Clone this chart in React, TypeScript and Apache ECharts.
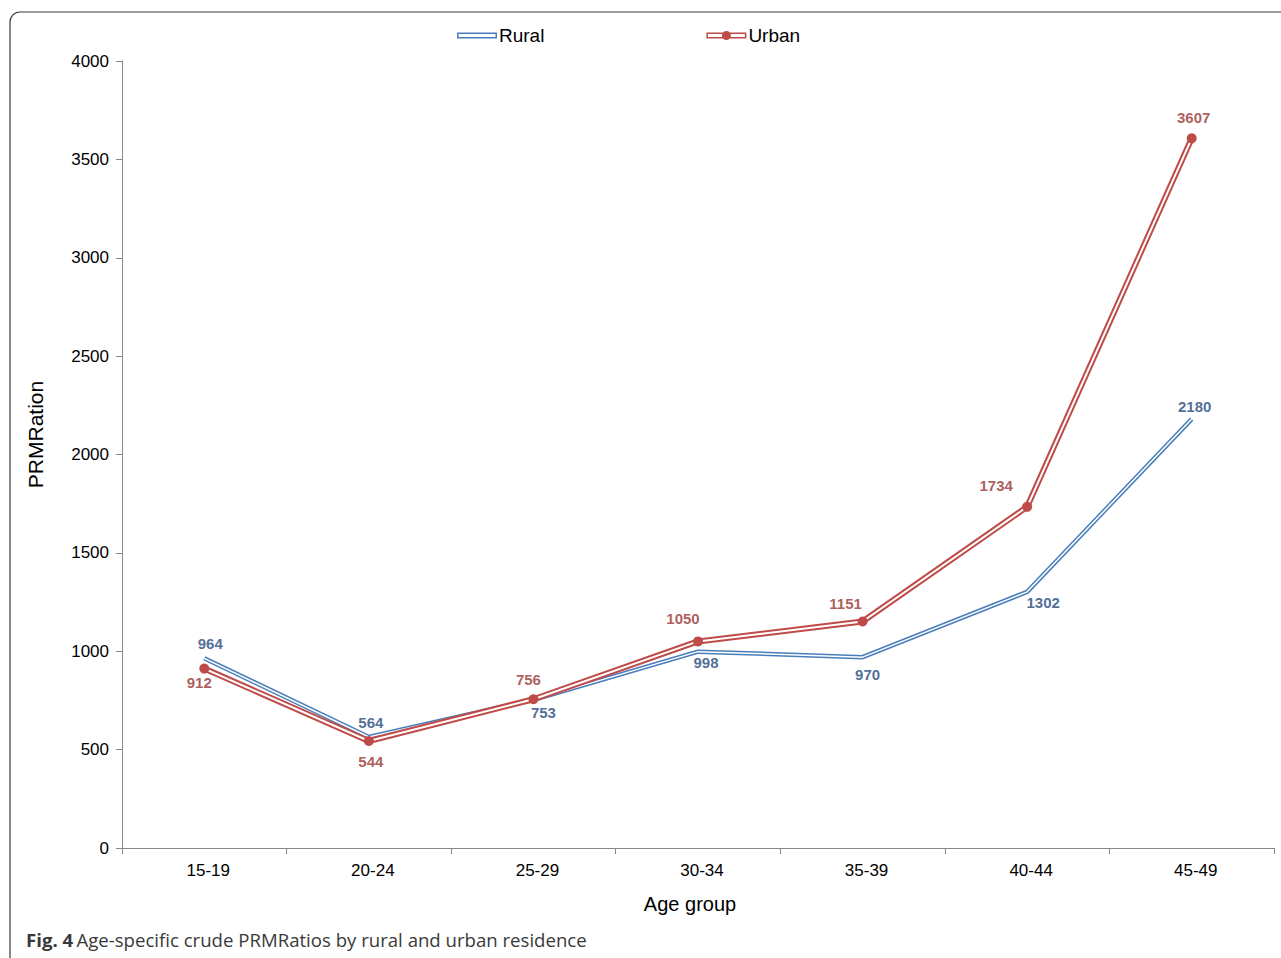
import React, { useEffect, useRef } from "react";
import * as echarts from "echarts";

const categories = ["15-19", "20-24", "25-29", "30-34", "35-39", "40-44", "45-49"];
const ruralValues = [964, 564, 753, 998, 970, 1302, 2180];
const urbanValues = [912, 544, 756, 1050, 1151, 1734, 3607];
const yTicks = [0, 500, 1000, 1500, 2000, 2500, 3000, 3500, 4000];
const ruralLabelOffsets: [number, number][] = [[6, -15], [2, -15], [10, 13], [8, 11], [5, 17], [16, 11], [3, -13]];
const urbanLabelOffsets: [number, number][] = [[-5, 14], [2, 21], [-5, -20], [-15, -23], [-17, -18], [-31, -21], [2, -21]];

const RURAL = "#4a7ebb";
const URBAN = "#be4b48";
const RURAL_LABEL = "#1f497d";
const URBAN_LABEL = "#983431";
const AXIS = "#868686";
const FONT = "'Liberation Sans', Arial, Helvetica, sans-serif";

function circlePath(cx: number, cy: number, r: number, n: number) {
  const pts: string[] = [];
  for (let i = 0; i < n; i++) {
    const a = (i / n) * Math.PI * 2;
    pts.push(`${(cx + r * Math.cos(a)).toFixed(2)},${(cy + r * Math.sin(a)).toFixed(2)}`);
  }
  return "M" + pts.join("L") + "Z";
}

export default function App() {
  const ref = useRef<HTMLDivElement>(null);
  useEffect(() => {
    if (!ref.current) return;
    const chart = echarts.init(ref.current, null, { renderer: "svg" });
    const labelSeries = (name: string, values: number[], offs: [number, number][], color: string) => ({
      name,
      type: "scatter",
      symbolSize: 1,
      itemStyle: { color: "rgba(0,0,0,0)" },
      silent: true,
      z: 10,
      data: values.map((v, i) => ({
        value: v,
        label: {
          show: true,
          position: "inside",
          offset: offs[i],
          formatter: String(v),
          color,
          fontFamily: FONT,
          fontWeight: "bold",
          fontSize: 15,
        },
      })),
    });
    const urbanIcon =
      "path://M0,1.5H40V7.5H0Z M1.5,3V6H38.5V3Z " + circlePath(20, 4.5, 4.5, 16);
    chart.setOption({
      animation: false,
      backgroundColor: "#ffffff",
      grid: { left: 122, right: 7, top: 61, bottom: 110 },
      legend: {
        left: 452,
        top: 21,
        itemWidth: 40,
        itemHeight: 9,
        itemGap: 162,
        textStyle: { fontFamily: FONT, fontSize: 19, color: "#000", padding: [0, 0, 0, -3] },
        data: [
          { name: "Rural", icon: "path://M0,0H40V6H0Z M1.5,1.5V4.5H38.5V1.5Z", itemStyle: { color: RURAL } },
          { name: "Urban", icon: urbanIcon, itemStyle: { color: URBAN } },
        ],
      },
      xAxis: {
        type: "category",
        data: categories,
        boundaryGap: true,
        name: "Age group",
        nameLocation: "middle",
        nameGap: 46,
        nameTextStyle: { fontFamily: FONT, fontSize: 20, color: "#000", padding: [0, 16, 0, 0] },
        axisLine: { lineStyle: { color: AXIS, width: 1 } },
        axisTick: { show: true, length: 6, inside: false, lineStyle: { color: AXIS } },
        axisLabel: { fontFamily: FONT, fontSize: 17, color: "#000", margin: 14, padding: [0, 0, 0, 8] },
        splitLine: { show: false },
      },
      yAxis: {
        type: "value",
        min: yTicks[0],
        max: yTicks[yTicks.length - 1],
        interval: yTicks[1] - yTicks[0],
        name: "PRMRation",
        nameLocation: "middle",
        nameGap: 76,
        nameTextStyle: { fontFamily: FONT, fontSize: 21, color: "#000", padding: [0, 0, 0, 40] },
        axisLine: { show: true, lineStyle: { color: AXIS, width: 1 } },
        axisTick: { show: true, length: 6, lineStyle: { color: AXIS } },
        axisLabel: { fontFamily: FONT, fontSize: 17, color: "#000", margin: 13, formatter: (v: number) => String(v) },
        splitLine: { show: false },
      },
      graphic: [
        {
          type: "rect",
          shape: { x: 10, y: 12, width: 1300, height: 1000, r: 10 },
          style: { fill: "none", stroke: "#3a3a3a", lineWidth: 1.2 },
          silent: true,
          z: -1,
        },
        {
          type: "text",
          left: 26,
          top: 930,
          style: {
            text: "{b|Fig. 4} {n|Age-specific crude PRMRatios by rural and urban residence}",
            rich: {
              b: { fontFamily: "'Open Sans', sans-serif", fontWeight: "bold", fontSize: 18.6, fill: "#3a3a3a" },
              n: { fontFamily: "'Open Sans', sans-serif", fontSize: 18.6, fill: "#3a3a3a" },
            },
          },
        },
      ],
      series: [
        {
          name: "Rural",
          type: "line",
          data: ruralValues,
          symbol: "none",
          lineStyle: { color: RURAL, width: 4.5 },
          itemStyle: { color: RURAL },
          z: 2,
        },
        {
          name: "RuralInner",
          type: "line",
          data: ruralValues,
          symbol: "none",
          lineStyle: { color: "#ffffff", width: 1.5 },
          z: 3,
        },
        {
          name: "Urban",
          type: "line",
          data: urbanValues,
          symbol: "none",
          lineStyle: { color: URBAN, width: 6 },
          itemStyle: { color: URBAN },
          z: 4,
        },
        {
          name: "UrbanInner",
          type: "line",
          data: urbanValues,
          symbol: "circle",
          symbolSize: 10,
          showAllSymbol: true,
          lineStyle: { color: "#ffffff", width: 2 },
          itemStyle: { color: URBAN, borderWidth: 0 },
          z: 5,
        },
        labelSeries("RuralLabels", ruralValues, ruralLabelOffsets, RURAL_LABEL),
        labelSeries("UrbanLabels", urbanValues, urbanLabelOffsets, URBAN_LABEL),
      ],
    });
    return () => chart.dispose();
  }, []);
  return (
    <div
      ref={ref}
      style={{ position: "fixed", left: 0, top: 0, width: 1281, height: 958, background: "#fff" }}
    />
  );
}
